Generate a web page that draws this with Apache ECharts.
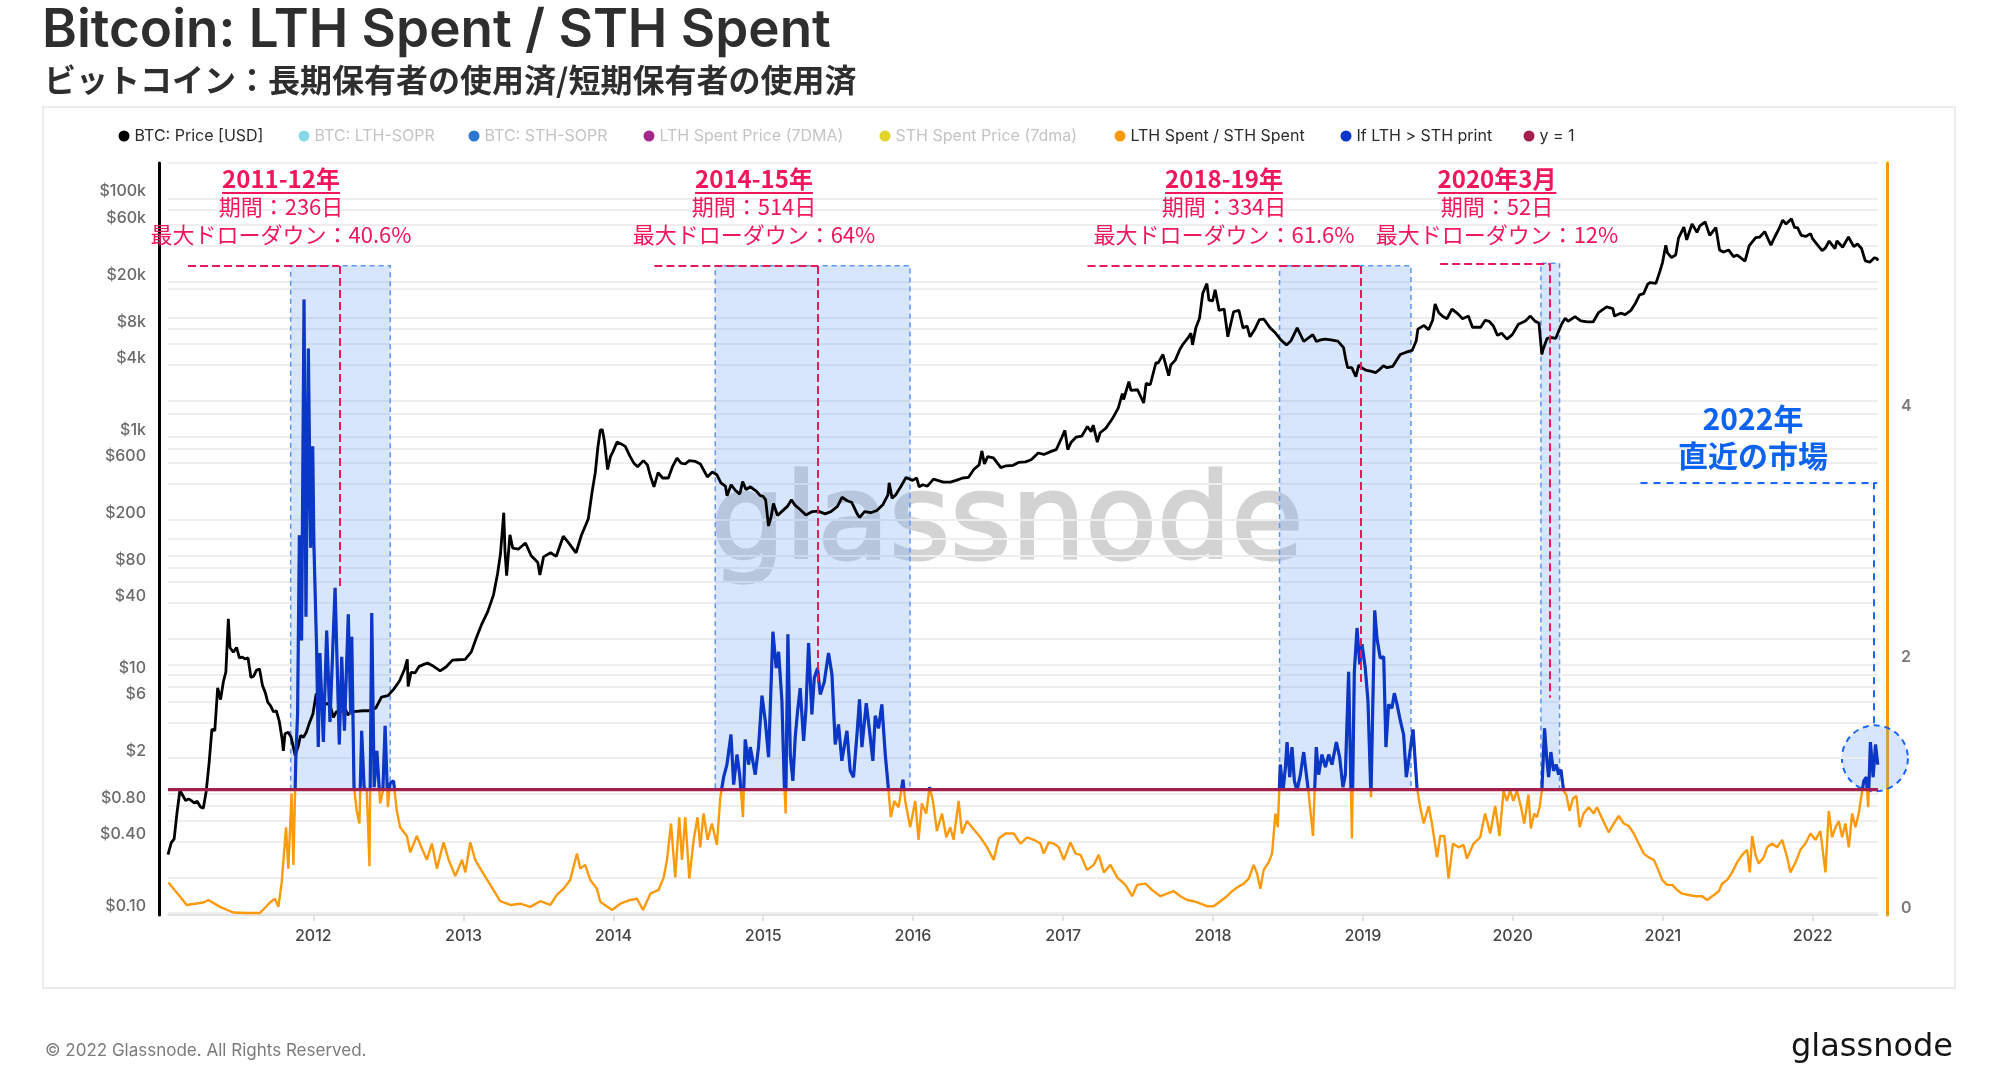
<!DOCTYPE html>
<html><head><meta charset="utf-8">
<script src="https://cdn.jsdelivr.net/npm/echarts@6.0.0/dist/echarts.min.js"></script>
<style>html,body{margin:0;padding:0;background:#fff}#c{width:2000px;height:1065px}</style>
</head><body><div id="c"></div>
<script>
// ---------- DATA ----------
const btcPrice = [
['2011-01-12',0.31],['2011-01-20',0.39],['2011-01-27',0.42],['2011-02-03',0.70],['2011-02-10',1.07],['2011-02-15',1.0],['2011-02-24',0.88],['2011-03-03',0.91],['2011-03-10',0.88],['2011-03-17',0.84],['2011-03-24',0.87],['2011-04-01',0.78],['2011-04-08',0.76],['2011-04-15',1.05],['2011-04-22',1.8],['2011-04-29',3.5],['2011-05-06',3.4],['2011-05-13',7.8],['2011-05-20',6.2],['2011-05-27',8.8],['2011-06-02',10.6],['2011-06-08',29.6],['2011-06-12',17.0],['2011-06-20',15.5],['2011-06-28',17.0],['2011-07-05',13.9],['2011-07-12',14.1],['2011-07-19',13.6],['2011-07-26',13.9],['2011-08-02',9.5],['2011-08-09',9.8],['2011-08-16',11.0],['2011-08-23',11.2],['2011-08-30',8.2],['2011-09-06',7.1],['2011-09-12',5.9],['2011-09-19',5.5],['2011-09-26',4.9],['2011-10-03',5.0],['2011-10-10',4.1],['2011-10-17',2.9],['2011-10-20',2.3],['2011-10-24',3.2],['2011-11-01',3.3],['2011-11-08',3.0],['2011-11-18',2.1],['2011-11-25',2.5],['2011-12-01',3.1],['2011-12-08',3.0],['2011-12-15',3.3],['2011-12-22',3.9],['2011-12-31',4.7],
['2012-01-08',6.9],['2012-01-15',6.8],['2012-01-22',6.3],['2012-01-29',5.6],['2012-02-05',5.8],['2012-02-12',5.4],['2012-02-19',4.4],['2012-02-26',4.9],['2012-03-04',5.0],['2012-03-11',4.9],['2012-03-18',5.3],['2012-03-25',4.6],['2012-04-01',4.9],['2012-04-15',4.95],['2012-05-01',5.0],['2012-05-15',5.0],['2012-06-01',5.25],['2012-06-15',6.5],['2012-07-01',6.7],['2012-07-15',7.6],['2012-07-29',8.9],['2012-08-10',11.1],['2012-08-17',13.5],['2012-08-19',8.0],['2012-08-26',10.5],['2012-09-05',10.4],['2012-09-15',11.8],['2012-09-25',12.2],['2012-10-05',12.6],['2012-10-20',11.8],['2012-11-05',10.8],['2012-11-20',11.7],['2012-12-05',13.3],['2012-12-20',13.4],
['2013-01-05',13.5],['2013-01-20',15.6],['2013-02-01',20.4],['2013-02-15',27],['2013-03-01',34],['2013-03-15',47],['2013-03-25',71],['2013-04-01',104],['2013-04-09',230],['2013-04-12',110],['2013-04-16',68],['2013-04-24',150],['2013-05-01',116],['2013-05-15',114],['2013-06-01',128],['2013-06-15',100],['2013-07-01',88],['2013-07-06',69],['2013-07-15',98],['2013-08-01',106],['2013-08-15',99],['2013-09-01',146],['2013-09-15',127],['2013-10-02',106],['2013-10-15',148],['2013-11-01',205],['2013-11-10',340],['2013-11-18',500],['2013-11-24',800],['2013-11-30',1130],['2013-12-05',1150],['2013-12-10',930],['2013-12-18',530],['2013-12-25',680],['2013-12-31',750],
['2014-01-10',900],['2014-01-20',870],['2014-01-30',830],['2014-02-10',690],['2014-02-20',600],['2014-03-01',560],['2014-03-15',630],['2014-03-25',580],['2014-04-01',470],['2014-04-10',380],['2014-04-20',500],['2014-05-01',450],['2014-05-15',450],['2014-05-25',560],['2014-06-05',660],['2014-06-15',600],['2014-06-25',590],['2014-07-05',630],['2014-07-20',620],['2014-08-01',590],['2014-08-18',460],['2014-08-30',505],['2014-09-10',480],['2014-09-20',410],['2014-10-01',385],['2014-10-05',320],['2014-10-15',395],['2014-10-25',355],['2014-11-05',330],['2014-11-12',420],['2014-11-20',360],['2014-12-01',380],['2014-12-15',350],['2014-12-25',320],
['2015-01-01',315],['2015-01-07',295],['2015-01-14',178],['2015-01-20',210],['2015-01-26',275],['2015-02-05',218],['2015-02-15',235],['2015-03-01',260],['2015-03-11',295],['2015-03-20',265],['2015-04-01',245],['2015-04-15',220],['2015-05-01',235],['2015-05-15',237],['2015-06-01',225],['2015-06-15',235],['2015-07-01',260],['2015-07-12',310],['2015-07-25',290],['2015-08-05',280],['2015-08-18',225],['2015-08-24',210],['2015-09-05',235],['2015-09-20',230],['2015-10-05',240],['2015-10-20',270],['2015-11-01',325],['2015-11-04',410],['2015-11-11',305],['2015-11-20',325],['2015-12-01',375],['2015-12-15',455],['2015-12-31',430],
['2016-01-10',450],['2016-01-16',380],['2016-01-25',395],['2016-02-05',385],['2016-02-20',440],['2016-03-01',430],['2016-03-15',415],['2016-04-01',416],['2016-04-15',430],['2016-05-01',450],['2016-05-15',455],['2016-05-28',530],['2016-06-10',580],['2016-06-17',760],['2016-06-23',590],['2016-07-01',680],['2016-07-15',665],['2016-08-02',550],['2016-08-15',570],['2016-09-01',575],['2016-09-15',610],['2016-10-01',615],['2016-10-15',640],['2016-11-01',730],['2016-11-15',710],['2016-12-01',750],['2016-12-15',780],['2016-12-28',975],
['2017-01-05',1130],['2017-01-12',780],['2017-01-20',895],['2017-02-01',990],['2017-02-15',1010],['2017-03-01',1220],['2017-03-10',1100],['2017-03-15',1250],['2017-03-25',900],['2017-04-01',1080],['2017-04-15',1180],['2017-05-01',1420],['2017-05-15',1740],['2017-05-25',2300],['2017-05-28',2050],['2017-06-10',2900],['2017-06-12',2950],['2017-06-15',2450],['2017-07-01',2480],['2017-07-16',1920],['2017-07-22',2800],['2017-08-01',2730],['2017-08-15',4200],['2017-08-20',4150],['2017-09-01',4900],['2017-09-15',3250],['2017-09-20',4000],['2017-10-01',4400],['2017-10-12',5400],['2017-10-20',6000],['2017-11-01',6750],['2017-11-08',7400],['2017-11-12',5900],['2017-11-20',8200],['2017-11-29',9900],['2017-12-07',16000],['2017-12-17',19300],['2017-12-22',14000],['2017-12-31',13800],
['2018-01-06',17100],['2018-01-16',11500],['2018-01-28',11800],['2018-02-06',6900],['2018-02-20',11200],['2018-03-05',11500],['2018-03-15',8200],['2018-03-25',8500],['2018-04-01',6900],['2018-04-12',7900],['2018-04-24',9600],['2018-05-05',9700],['2018-05-20',8200],['2018-06-01',7500],['2018-06-15',6500],['2018-06-29',5900],['2018-07-10',6400],['2018-07-25',8200],['2018-08-10',6300],['2018-08-14',6100],['2018-09-01',7200],['2018-09-10',6300],['2018-09-20',6500],['2018-10-01',6600],['2018-10-15',6500],['2018-11-01',6350],['2018-11-15',5600],['2018-11-20',4500],['2018-11-25',3800],['2018-12-05',3800],['2018-12-15',3200],['2018-12-22',4000],['2018-12-31',3750],
['2019-01-10',3600],['2019-01-20',3550],['2019-02-01',3450],['2019-02-10',3650],['2019-02-20',3950],['2019-03-01',3800],['2019-03-15',3900],['2019-04-02',4900],['2019-04-15',5100],['2019-05-01',5300],['2019-05-11',6400],['2019-05-15',8000],['2019-05-30',8600],['2019-06-10',7900],['2019-06-20',9500],['2019-06-26',13000],['2019-07-05',11000],['2019-07-15',10200],['2019-07-25',9800],['2019-08-06',11800],['2019-08-20',10800],['2019-09-01',9800],['2019-09-15',10300],['2019-09-25',8300],['2019-10-15',8300],['2019-10-26',9500],['2019-11-05',9300],['2019-11-15',8500],['2019-11-25',7100],['2019-12-05',7400],['2019-12-18',6600],['2019-12-31',7200],
['2020-01-15',8800],['2020-02-01',9350],['2020-02-13',10300],['2020-02-25',9300],['2020-03-05',9000],['2020-03-12',4900],['2020-03-15',5400],['2020-03-25',6700],['2020-04-05',6800],['2020-04-15',6700],['2020-04-29',8800],['2020-05-08',9900],['2020-05-15',9300],['2020-06-01',10200],['2020-06-15',9400],['2020-07-01',9200],['2020-07-15',9200],['2020-07-28',11000],['2020-08-17',12300],['2020-09-01',11900],['2020-09-05',10300],['2020-09-20',10900],['2020-10-01',10600],['2020-10-15',11500],['2020-10-25',13000],['2020-11-05',15500],['2020-11-15',15900],['2020-11-25',19100],['2020-12-01',19700],['2020-12-15',19400],['2020-12-25',24700],['2020-12-31',29000],
['2021-01-08',40500],['2021-01-12',35000],['2021-01-22',32000],['2021-02-01',33500],['2021-02-08',46500],['2021-02-21',57500],['2021-02-28',45000],['2021-03-13',61200],['2021-03-25',52000],['2021-04-01',59000],['2021-04-14',63500],['2021-04-25',49000],['2021-05-10',57000],['2021-05-19',37000],['2021-05-28',35500],['2021-06-10',37000],['2021-06-22',32500],['2021-07-01',33500],['2021-07-20',29800],['2021-07-30',40000],['2021-08-15',47000],['2021-08-25',47500],['2021-09-06',52700],['2021-09-21',40600],['2021-10-01',48000],['2021-10-10',55000],['2021-10-20',66000],['2021-10-28',61000],['2021-11-10',67500],['2021-11-18',56900],['2021-11-25',57000],['2021-12-04',49000],['2021-12-15',48000],['2021-12-27',50700],['2021-12-31',46300],
['2022-01-10',41800],['2022-01-24',36500],['2022-02-01',38500],['2022-02-10',44000],['2022-02-24',38000],['2022-03-01',44000],['2022-03-15',39000],['2022-03-29',47500],['2022-04-11',39500],['2022-04-20',41500],['2022-04-30',38000],['2022-05-09',30000],['2022-05-12',28900],['2022-05-20',29200],['2022-05-31',31800],['2022-06-06',31400],['2022-06-09',30100]
];

// LTH Spent / STH Spent ratio, [decimal year, ratio]
const lthSthRatio = [
[2011.033,0.26],[2011.111,0.146],[2011.155,0.08],[2011.266,0.10],[2011.300,0.12],[2011.377,0.065],[2011.466,0.02],[2011.555,0.016],[2011.644,0.016],[2011.711,0.10],[2011.744,0.13],[2011.767,0.065],[2011.789,0.26],[2011.818,0.70],[2011.833,0.37],[2011.855,0.97],[2011.867,0.40],[2011.884,1.28],[2011.895,1.6],[2011.907,3.03],[2011.922,2.19],[2011.938,4.91],[2011.951,2.38],[2011.967,4.52],[2011.982,2.93],[2011.996,3.74],[2012.004,2.96],[2012.022,2.12],[2012.033,1.34],[2012.044,2.09],[2012.067,1.38],[2012.089,2.27],[2012.111,1.54],[2012.145,2.61],[2012.173,1.36],[2012.189,2.06],[2012.207,1.47],[2012.233,2.40],[2012.249,1.6],[2012.256,2.22],[2012.271,1.02],[2012.289,0.83],[2012.307,0.73],[2012.322,1.47],[2012.338,1.02],[2012.356,0.99],[2012.374,0.39],[2012.389,2.41],[2012.405,1.02],[2012.423,1.31],[2012.445,0.89],[2012.463,0.99],[2012.478,1.51],[2012.496,0.86],[2012.511,1.05],[2012.534,1.07],[2012.556,0.83],[2012.578,0.70],[2012.623,0.63],[2012.645,0.50],[2012.689,0.63],[2012.723,0.53],[2012.756,0.44],[2012.789,0.57],[2012.823,0.37],[2012.867,0.58],[2012.901,0.44],[2012.945,0.31],[2012.990,0.44],[2013.012,0.34],[2013.045,0.58],[2013.078,0.44],[2013.112,0.37],[2013.179,0.24],[2013.245,0.11],[2013.312,0.08],[2013.379,0.09],[2013.445,0.065],[2013.512,0.11],[2013.579,0.08],[2013.623,0.16],[2013.668,0.21],[2013.712,0.28],[2013.757,0.49],[2013.779,0.37],[2013.812,0.40],[2013.846,0.28],[2013.890,0.21],
[2013.913,0.106],[2013.991,0.04],[2014.046,0.09],[2014.113,0.12],[2014.158,0.13],[2014.198,0.04],[2014.247,0.17],[2014.302,0.20],[2014.336,0.30],[2014.358,0.44],[2014.385,0.73],[2014.413,0.30],[2014.440,0.78],[2014.458,0.44],[2014.480,0.78],[2014.507,0.29],[2014.536,0.60],[2014.562,0.78],[2014.580,0.54],[2014.602,0.81],[2014.629,0.60],[2014.658,0.73],[2014.691,0.56],[2014.714,0.94],[2014.736,1.10],[2014.758,1.20],[2014.785,1.44],[2014.803,1.04],[2014.825,1.28],[2014.843,1.12],[2014.865,0.78],[2014.880,1.40],[2014.903,1.20],[2014.914,1.34],[2014.947,1.12],[2014.969,1.34],[2014.992,1.75],[2015.014,1.55],[2015.036,1.26],[2015.065,2.26],[2015.087,1.97],[2015.103,2.10],[2015.125,1.71],[2015.141,1.04],[2015.150,0.81],[2015.165,2.24],[2015.181,1.28],[2015.198,1.07],[2015.214,1.42],[2015.230,1.63],[2015.247,1.81],[2015.270,1.39],[2015.285,1.63],[2015.303,2.17],[2015.325,1.60],[2015.341,1.89],[2015.363,1.97],[2015.381,1.76],[2015.408,1.86],[2015.436,2.09],[2015.459,1.92],[2015.481,1.36],[2015.503,1.52],[2015.525,1.23],[2015.559,1.47],[2015.581,1.15],[2015.603,1.10],[2015.626,1.44],[2015.643,1.72],[2015.659,1.34],[2015.688,1.69],[2015.710,1.47],[2015.732,1.23],[2015.748,1.59],[2015.770,1.49],[2015.792,1.68],[2015.815,1.28],[2015.837,0.99],[2015.852,0.78],[2015.875,0.91],[2015.904,0.86],[2015.933,1.08],[2015.948,0.91],[2015.981,0.70],[2016.015,0.91],[2016.037,0.60],[2016.059,0.89],[2016.088,0.81],[2016.110,1.02],[2016.133,0.91],[2016.159,0.67],[2016.193,0.81],[2016.222,0.62],[2016.248,0.70],[2016.270,0.60],[2016.304,0.91],[2016.326,0.65],[2016.359,0.75],[2016.393,0.70],[2016.448,0.62],[2016.493,0.54],[2016.537,0.44],[2016.571,0.61],[2016.615,0.65],[2016.671,0.65],[2016.715,0.57],[2016.760,0.62],[2016.804,0.60],
[2016.848,0.57],[2016.870,0.49],[2016.904,0.58],[2016.937,0.57],[2016.970,0.54],[2017.004,0.44],[2017.048,0.58],[2017.082,0.49],[2017.115,0.48],[2017.159,0.36],[2017.204,0.40],[2017.237,0.48],[2017.271,0.34],[2017.315,0.40],[2017.360,0.30],[2017.415,0.24],[2017.460,0.15],[2017.493,0.24],[2017.549,0.25],[2017.593,0.20],[2017.649,0.15],[2017.693,0.17],[2017.738,0.19],[2017.782,0.15],[2017.827,0.12],[2017.871,0.11],[2017.916,0.09],[2017.960,0.07],[2018.004,0.07],[2018.049,0.11],[2018.093,0.15],[2018.127,0.19],[2018.160,0.22],[2018.205,0.25],[2018.238,0.29],[2018.271,0.40],[2018.294,0.33],[2018.316,0.21],[2018.338,0.36],[2018.371,0.42],[2018.394,0.49],[2018.416,0.81],[2018.432,0.70],[2018.449,1.20],[2018.467,0.99],[2018.483,1.18],[2018.494,1.38],[2018.512,1.10],[2018.527,1.34],[2018.543,1.07],[2018.560,0.99],[2018.583,1.12],[2018.605,1.30],[2018.623,1.12],[2018.638,0.97],[2018.667,0.63],[2018.689,1.34],[2018.705,1.12],[2018.727,1.28],[2018.750,1.18],[2018.772,1.28],[2018.794,1.20],[2018.823,1.38],[2018.845,1.26],[2018.867,1.02],[2018.883,1.12],[2018.905,1.94],[2018.927,0.61],[2018.943,1.94],[2018.961,2.29],[2018.979,2.00],[2018.994,2.16],[2019.016,1.97],[2019.034,1.71],[2019.054,0.94],[2019.079,2.43],[2019.094,2.21],[2019.116,2.05],[2019.139,2.06],[2019.154,1.34],[2019.172,1.68],[2019.194,1.65],[2019.210,1.77],[2019.228,1.68],[2019.250,1.55],[2019.272,1.44],[2019.290,1.10],[2019.312,1.28],[2019.335,1.48],[2019.361,1.02],[2019.383,0.86],[2019.406,0.73],[2019.439,0.87],[2019.461,0.73],[2019.495,0.46],[2019.517,0.63],[2019.544,0.63],[2019.572,0.29],[2019.601,0.57],[2019.639,0.54],[2019.672,0.56],[2019.695,0.45],[2019.739,0.57],
[2019.783,0.62],[2019.816,0.81],[2019.850,0.65],[2019.883,0.87],[2019.912,0.63],[2019.939,0.99],[2019.961,0.91],[2019.983,0.99],[2020.005,0.91],[2020.028,0.99],[2020.054,0.87],[2020.077,0.73],[2020.105,0.96],[2020.121,0.69],[2020.143,0.81],[2020.161,0.78],[2020.179,0.86],[2020.194,0.99],[2020.212,1.49],[2020.228,1.23],[2020.239,1.10],[2020.254,1.30],[2020.272,1.15],[2020.290,1.20],[2020.306,1.12],[2020.321,1.16],[2020.339,0.99],[2020.357,0.96],[2020.379,0.83],[2020.401,0.93],[2020.424,0.95],[2020.446,0.70],[2020.472,0.81],[2020.506,0.86],[2020.539,0.81],[2020.561,0.86],[2020.595,0.77],[2020.639,0.66],[2020.673,0.73],[2020.706,0.79],[2020.739,0.73],[2020.773,0.71],[2020.806,0.65],[2020.839,0.57],[2020.873,0.49],[2020.906,0.46],[2020.939,0.44],[2020.962,0.38],[2020.995,0.28],[2021.028,0.24],[2021.062,0.24],[2021.095,0.20],[2021.129,0.17],[2021.173,0.16],[2021.217,0.15],[2021.262,0.15],[2021.295,0.12],[2021.340,0.16],[2021.373,0.19],[2021.395,0.25],[2021.429,0.28],[2021.462,0.34],[2021.495,0.42],[2021.529,0.48],[2021.562,0.52],[2021.580,0.34],[2021.596,0.63],[2021.618,0.48],[2021.640,0.41],[2021.673,0.46],[2021.696,0.54],[2021.729,0.57],[2021.762,0.54],[2021.796,0.60],[2021.829,0.46],[2021.851,0.34],[2021.885,0.42],[2021.918,0.52],[2021.951,0.57],[2021.985,0.65],[2022.018,0.60],[2022.051,0.67],[2022.085,0.34],[2022.107,0.83],[2022.129,0.62],[2022.152,0.70],[2022.174,0.75],[2022.196,0.62],[2022.218,0.73],[2022.241,0.54],[2022.263,0.81],[2022.285,0.70],[2022.307,0.81],[2022.330,0.99],[2022.341,1.07],[2022.358,1.10],[2022.370,0.86],[2022.385,1.38],[2022.403,1.10],[2022.419,1.36],[2022.434,1.20]
];

const priceTickValues = [100000,60000,20000,8000,4000,1000,600,200,80,40,10,6,2,0.8,0.4,0.1];
const priceTickLabels = ['$100k','$60k','$20k','$8k','$4k','$1k','$600','$200','$80','$40','$10','$6','$2','$0.80','$0.40','$0.10'];
const priceGridValues = [0.1,0.2,0.4,0.6,0.8,1,2,4,6,8,10,20,40,60,80,100,200,400,600,800,1000,2000,4000,6000,8000,10000,20000,40000,60000,80000,100000];
const ratioTickLabels = [0,2,4];

// highlighted cycles [start, end] (decimal years)
const cyclePeriods = [[2011.849,2012.512],[2014.680,2015.980],[2018.444,2019.321],[2020.188,2020.312]];
const cycleTops = [5.18,5.18,5.18,5.2];
// drawdown markers: [hStart, vX, top, vBottom]
const drawdownMarks = [[2011.164,2012.173,5.178,2.61],[2014.274,2015.365,5.178,1.825],[2017.162,2018.987,5.178,1.825],[2019.516,2020.245,5.2,1.733]];
const cycleTitles = ['2011-12年','2014-15年','2018-19年','2020年3月'];
const cycleDurations = ['期間：236日','期間：514日','期間：334日','期間：52日'];
const cycleDrawdowns = ['最大ドローダウン：40.6%','最大ドローダウン：64%','最大ドローダウン：61.6%','最大ドローダウン：12%'];
const recentMarker = {hStart:2020.851, hEnd:2022.43, x:2022.404, top:3.452, bottom:1.5, cx:2022.415, cy:1.25};

// ---------- HELPERS ----------
function yr(y){const Y=Math.floor(y);const a=Date.UTC(Y,0,1),b=Date.UTC(Y+1,0,1);return a+(y-Y)*(b-a);}
const priceSeries = btcPrice.map(d=>[Date.parse(d[0]), d[1]]);
const ratioSeries = lthSthRatio.map(d=>[yr(d[0]), d[1]]);
const t0 = priceSeries[0][0], t1 = priceSeries[priceSeries.length-1][0];

const chart = echarts.init(document.getElementById('c'), null, {renderer:'canvas'});
const FONT='Inter, "Noto Sans", sans-serif';
const JP='"Noto Sans CJK JP", sans-serif';
const PINK='#f2165a';
const BLUEA='#1a66ff';

const gridMarks = priceGridValues.map(v=>{
  const i = priceTickValues.indexOf(v);
  const item = {yAxis:v};
  if(i>=0){
    item.label={show:true, position:'start', distance:22, formatter:priceTickLabels[i], color:'#6a6a6a', fontSize:16, fontFamily:FONT, fontWeight:500, align:'right', verticalAlign:'bottom', lineHeight:14};
  }
  return item;
});

const legendDefs = [
 ['BTC: Price [USD]','#000000','#2b2b2b',124],
 ['BTC: LTH-SOPR','#86d8e6','#c4c4c4',304],
 ['BTC: STH-SOPR','#2b78d0','#c4c4c4',474],
 ['LTH Spent Price (7DMA)','#a4288c','#c4c4c4',649],
 ['STH Spent Price (7dma)','#e2d42a','#c4c4c4',885],
 ['LTH Spent / STH Spent','#fb9a0c','#2b2b2b',1120],
 ['If LTH > STH print','#0a37c8','#2b2b2b',1346],
 ['y = 1','#a3204a','#2b2b2b',1529]
];
const legends = legendDefs.map(d=>({
  show:true, left:d[3]-5.5, top:127, padding:0, icon:'circle', itemWidth:11, itemHeight:11, selectedMode:false,
  textStyle:{fontSize:16, fontFamily:FONT, color:d[2], lineHeight:18},
  data:[{name:d[0], itemStyle:{color:d[1]}, textStyle:{color:d[2]}}]
}));

const areaData = cyclePeriods.map((p,i)=>[{xAxis:yr(p[0]), yAxis:1},{xAxis:yr(p[1]), yAxis:cycleTops[i]}]);
const dashRed = {type:'dashed', color:'#e8195a', width:2};
const dashBlue = {type:[7,6], color:BLUEA, width:2};
const annLines = [];
drawdownMarks.forEach(m=>{
  annLines.push([{coord:[yr(m[0]),m[2]], lineStyle:dashRed},{coord:[yr(m[1]),m[2]]}]);
  annLines.push([{coord:[yr(m[1]),m[2]], lineStyle:dashRed},{coord:[yr(m[1]),m[3]]}]);
});
annLines.push([{coord:[yr(recentMarker.hStart),recentMarker.top], lineStyle:dashBlue},{coord:[yr(recentMarker.hEnd),recentMarker.top]}]);
annLines.push([{coord:[yr(recentMarker.x),recentMarker.top], lineStyle:dashBlue},{coord:[yr(recentMarker.x),recentMarker.bottom]}]);

function tw(str,font){const c=document.createElement('canvas').getContext('2d');c.font=font;return c.measureText(str).width;}
const groupCx=[281,754,1224,1497];
const graphics = [
 {id:'card', type:'rect', shape:{x:43,y:107,width:1912,height:881}, style:{fill:'none', stroke:'#e6e6e6', lineWidth:1.5}, z:-1, silent:true},
 {id:'wm', type:'text', x:1007, y:528, style:{text:'glassnode', fontSize:117, fontFamily:'"DejaVu Sans"', fill:'#d3d3d3', stroke:'#d3d3d3', lineWidth:3, align:'center', verticalAlign:'middle'}, z:0, silent:true},
 {id:'copy', type:'text', x:45, y:1051, style:{text:'© 2022 Glassnode. All Rights Reserved.', fontSize:17, fontFamily:FONT, fill:'#7b7b7b', align:'left', verticalAlign:'middle'}, silent:true},
 {id:'logo', type:'text', x:1791, y:1048, style:{text:'glassnode', fontSize:32, fontFamily:'"DejaVu Sans"', fill:'#151515', align:'left', verticalAlign:'middle'}, silent:true},
 {id:'r1', type:'text', x:1753, y:419, style:{text:'2022年', fontSize:30, fontWeight:'bold', fontFamily:JP, fill:'#0b63f0', align:'center', verticalAlign:'middle'}, z:10},
 {id:'r2', type:'text', x:1753, y:456, style:{text:'直近の市場', fontSize:30, fontWeight:'bold', fontFamily:JP, fill:'#0b63f0', align:'center', verticalAlign:'middle'}, z:10}
];
cycleTitles.forEach((t,i)=>{
  const cx=groupCx[i];
  const w=tw(t,'bold 24px "Noto Sans CJK JP"');
  graphics.push({id:'t'+i, type:'text', x:cx, y:179, style:{text:t, fontSize:24, fontWeight:'bold', fontFamily:JP, fill:PINK, align:'center', verticalAlign:'middle'}, z:10});
  graphics.push({id:'u'+i, type:'line', shape:{x1:cx-w/2, y1:193, x2:cx+w/2, y2:193}, style:{stroke:PINK, lineWidth:2}, z:10});
  graphics.push({id:'d'+i, type:'text', x:cx, y:207, style:{text:cycleDurations[i], fontSize:22, fontFamily:JP, fill:PINK, align:'center', verticalAlign:'middle'}, z:10});
  graphics.push({id:'m'+i, type:'text', x:cx, y:235, style:{text:cycleDrawdowns[i], fontSize:22, fontFamily:JP, fill:PINK, align:'center', verticalAlign:'middle'}, z:10});
});

const option = {
  animation:false,
  useUTC:true,
  backgroundColor:'#fff',
  textStyle:{fontFamily:FONT},
  title:[
    {text:'Bitcoin: LTH Spent / STH Spent', left:42, top:5, padding:0, textStyle:{fontSize:53, fontWeight:600, fontFamily:FONT, color:'#2e2e2e'}},
    {text:'ビットコイン：長期保有者の使用済/短期保有者の使用済', left:44, top:64, padding:0, textStyle:{fontSize:32, fontWeight:'bold', fontFamily:JP, color:'#2e2e2e'}}
  ],
  legend:legends,
  grid:{left:168, right:122, top:163, bottom:150, containLabel:false, outerBoundsMode:'none'},
  xAxis:{type:'time', min:'dataMin', max:'dataMax', splitNumber:12,
    axisLine:{show:true, lineStyle:{color:'#e2e2e2', width:2}},
    axisTick:{show:true, length:6, lineStyle:{color:'#dcdcdc', width:1.5}},
    axisLabel:{formatter:'{yyyy}', color:'#464646', fontSize:16, fontFamily:FONT, fontWeight:500, margin:13, hideOverlap:false},
    splitLine:{show:false}, minorTick:{show:false}},
  yAxis:[
    {type:'log', logBase:10, min:0.0964, max:198700, position:'left', offset:9,
     axisLine:{show:true, lineStyle:{color:'#000', width:3}}, axisTick:{show:false}, axisLabel:{show:false}, splitLine:{show:false}},
    {type:'value', min:0, max:6, interval:1, position:'right', offset:9,
     axisLine:{show:true, lineStyle:{color:'#fb9a0c', width:3}}, axisTick:{show:false},
     axisLabel:{formatter:v=>ratioTickLabels.indexOf(v)>=0?String(v):'', color:'#7a7a7a', fontSize:16, fontWeight:600, fontFamily:FONT, margin:14, verticalAlign:'bottom', lineHeight:14},
     splitLine:{show:true, lineStyle:{color:'#efefef', width:2}}}
  ],
  visualMap:[{type:'piecewise', show:false, seriesIndex:6, dimension:1,
    pieces:[{gt:1, lte:10, color:'#0a37c8'},{gte:-10, lte:1, color:'rgba(10,55,200,0)'}],
    outOfRange:{color:'rgba(10,55,200,0)'}}],
  series:[
    {name:'BTC: Price [USD]', type:'line', xAxisIndex:0, yAxisIndex:0, data:priceSeries, showSymbol:false, symbol:'none', z:3,
     lineStyle:{color:'#000', width:2.8}, itemStyle:{color:'#000'},
     markLine:{silent:true, symbol:'none', z:1, animation:false, lineStyle:{color:'#eeeeee', width:2, type:'solid'}, label:{show:false}, emphasis:{disabled:true}, data:gridMarks}},
    {name:'BTC: LTH-SOPR', type:'line', yAxisIndex:1, data:[], itemStyle:{color:'#86d8e6'}},
    {name:'BTC: STH-SOPR', type:'line', yAxisIndex:1, data:[], itemStyle:{color:'#2b78d0'}},
    {name:'LTH Spent Price (7DMA)', type:'line', yAxisIndex:0, data:[], itemStyle:{color:'#a4288c'}},
    {name:'STH Spent Price (7dma)', type:'line', yAxisIndex:0, data:[], itemStyle:{color:'#e2d42a'}},
    {name:'LTH Spent / STH Spent', type:'line', xAxisIndex:0, yAxisIndex:1, data:ratioSeries, showSymbol:false, symbol:'none', z:4,
     lineStyle:{color:'#fb9a0c', width:2.4}, itemStyle:{color:'#fb9a0c'},
     markArea:{silent:true, z:1.5, itemStyle:{color:'rgba(110,165,245,0.28)', borderColor:'#5b95f5', borderWidth:1.5, borderType:[5,4]}, data:areaData},
     markLine:{silent:true, symbol:'none', z:6, label:{show:false}, emphasis:{disabled:true}, data:annLines}},
    {name:'If LTH > STH print', type:'line', xAxisIndex:0, yAxisIndex:1, data:ratioSeries, showSymbol:false, symbol:'none', z:5,
     lineStyle:{width:3.2}, itemStyle:{color:'#0a37c8'}},
    {name:'y = 1', type:'line', xAxisIndex:0, yAxisIndex:1, data:[[t0,1],[t1,1]], showSymbol:false, symbol:'none', z:6,
     lineStyle:{color:'#a3204a', width:3.2}, itemStyle:{color:'#a3204a'}}
  ],
  graphic:{elements:graphics}
};
chart.setOption(option);
const cpt = chart.convertToPixel({xAxisIndex:0, yAxisIndex:1}, [yr(recentMarker.cx), recentMarker.cy]);
chart.setOption({graphic:{elements:[{id:'circ', type:'circle', shape:{cx:cpt[0], cy:cpt[1], r:33}, style:{fill:'rgba(110,165,245,0.28)', stroke:BLUEA, lineWidth:2, lineDash:[6,5]}, z:1, silent:true}]}});
</script>
</body></html>
